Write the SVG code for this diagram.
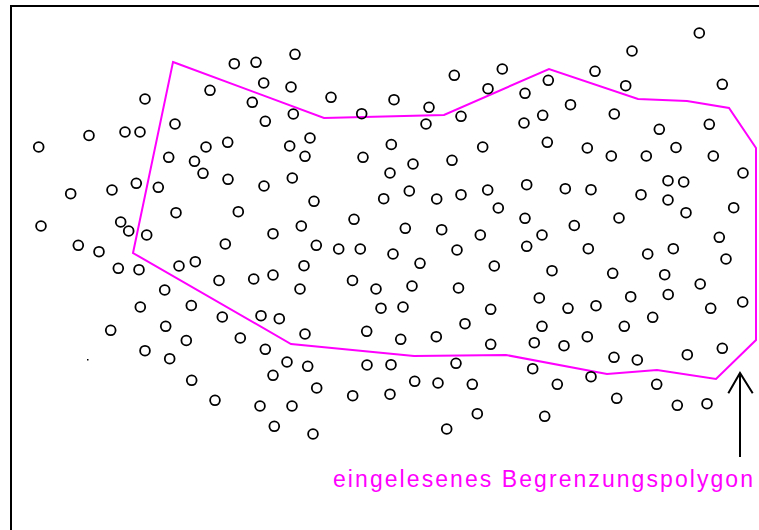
<svg xmlns="http://www.w3.org/2000/svg" width="759" height="530" viewBox="0 0 759 530">
<style>
.p{fill:none;stroke:#000;stroke-width:1.8}
.poly{fill:none;stroke:#ff00ff;stroke-width:2;stroke-linejoin:miter}
.frame{fill:none;stroke:#000;stroke-width:2}
.lbl{font-family:"Liberation Sans",Arial,sans-serif;font-size:23px;fill:#ff00ff}
.arr{fill:none;stroke:#000;stroke-width:2}
</style>
<defs><circle id="c" r="4.9" class="p"/></defs>
<rect width="759" height="530" fill="#fff"/>
<g id="frame">
<polyline class="frame" points="11,531 11,6 760,6"/>
</g>
<g id="boundary">
<polygon class="poly" points="173,62 324,118 444,115 549,69 638,99 687,101 729,108 756,148 756,340 716,379 657,370 607,374 506,355 414,356 291,344 133,253"/>
</g>
<g id="points">
<use href="#c" x="145" y="99"/>
<use href="#c" x="175" y="124"/>
<use href="#c" x="89" y="135.5"/>
<use href="#c" x="125" y="132"/>
<use href="#c" x="140" y="132"/>
<use href="#c" x="38.7" y="147"/>
<use href="#c" x="295" y="54.3"/>
<use href="#c" x="234.3" y="63.7"/>
<use href="#c" x="256" y="62.3"/>
<use href="#c" x="263.7" y="83"/>
<use href="#c" x="291" y="87"/>
<use href="#c" x="210" y="90.3"/>
<use href="#c" x="252.3" y="102.3"/>
<use href="#c" x="331" y="97.3"/>
<use href="#c" x="293.3" y="114"/>
<use href="#c" x="265.3" y="121.3"/>
<use href="#c" x="361.7" y="113.7"/>
<use href="#c" x="394" y="99.7"/>
<use href="#c" x="227.7" y="142.3"/>
<use href="#c" x="206" y="147"/>
<use href="#c" x="289.7" y="146"/>
<use href="#c" x="310" y="138"/>
<use href="#c" x="391.3" y="144.5"/>
<use href="#c" x="502.3" y="69"/>
<use href="#c" x="454.3" y="75.3"/>
<use href="#c" x="488" y="88.7"/>
<use href="#c" x="548.3" y="80.3"/>
<use href="#c" x="525" y="93.3"/>
<use href="#c" x="429" y="107.3"/>
<use href="#c" x="461" y="116.3"/>
<use href="#c" x="426" y="124"/>
<use href="#c" x="542.7" y="115.3"/>
<use href="#c" x="570.5" y="104.7"/>
<use href="#c" x="524" y="123"/>
<use href="#c" x="482.7" y="147"/>
<use href="#c" x="547.3" y="142.3"/>
<use href="#c" x="699.3" y="33"/>
<use href="#c" x="632" y="51"/>
<use href="#c" x="595" y="71.3"/>
<use href="#c" x="625.7" y="85.7"/>
<use href="#c" x="722.3" y="84.3"/>
<use href="#c" x="614.3" y="114"/>
<use href="#c" x="659.3" y="129.3"/>
<use href="#c" x="709.3" y="124.3"/>
<use href="#c" x="587.3" y="148"/>
<use href="#c" x="676" y="147.5"/>
<use href="#c" x="168.7" y="157.3"/>
<use href="#c" x="194.5" y="161.3"/>
<use href="#c" x="203" y="173.3"/>
<use href="#c" x="70.7" y="193.7"/>
<use href="#c" x="112" y="190"/>
<use href="#c" x="136.3" y="183.3"/>
<use href="#c" x="158.3" y="187.3"/>
<use href="#c" x="176" y="212.7"/>
<use href="#c" x="41" y="226"/>
<use href="#c" x="120.7" y="222"/>
<use href="#c" x="128.7" y="231"/>
<use href="#c" x="146.7" y="235"/>
<use href="#c" x="78.3" y="245.3"/>
<use href="#c" x="99" y="251.7"/>
<use href="#c" x="118.3" y="268.3"/>
<use href="#c" x="139" y="269.7"/>
<use href="#c" x="179" y="266"/>
<use href="#c" x="195.3" y="261.7"/>
<use href="#c" x="164.7" y="290"/>
<use href="#c" x="305" y="156.3"/>
<use href="#c" x="363" y="157.3"/>
<use href="#c" x="228" y="179.3"/>
<use href="#c" x="264" y="186"/>
<use href="#c" x="292.3" y="178"/>
<use href="#c" x="314" y="201.3"/>
<use href="#c" x="383.7" y="198.7"/>
<use href="#c" x="238.3" y="211.7"/>
<use href="#c" x="354" y="219.3"/>
<use href="#c" x="301.3" y="226"/>
<use href="#c" x="273" y="233.7"/>
<use href="#c" x="225.3" y="244"/>
<use href="#c" x="316.3" y="245.3"/>
<use href="#c" x="338.7" y="249"/>
<use href="#c" x="360.3" y="249"/>
<use href="#c" x="304" y="265.7"/>
<use href="#c" x="219" y="280.5"/>
<use href="#c" x="253.7" y="279"/>
<use href="#c" x="273" y="275"/>
<use href="#c" x="352.5" y="280.5"/>
<use href="#c" x="376" y="289"/>
<use href="#c" x="300" y="289"/>
<use href="#c" x="413" y="164"/>
<use href="#c" x="452" y="160.3"/>
<use href="#c" x="390" y="173"/>
<use href="#c" x="409.3" y="191"/>
<use href="#c" x="436.7" y="199"/>
<use href="#c" x="461" y="194.7"/>
<use href="#c" x="487.7" y="190"/>
<use href="#c" x="526.7" y="184.7"/>
<use href="#c" x="565.3" y="188.7"/>
<use href="#c" x="498.3" y="208"/>
<use href="#c" x="525" y="218.3"/>
<use href="#c" x="574.3" y="225.5"/>
<use href="#c" x="405.3" y="228.3"/>
<use href="#c" x="441.7" y="229.7"/>
<use href="#c" x="480.3" y="235"/>
<use href="#c" x="542" y="235"/>
<use href="#c" x="393" y="254"/>
<use href="#c" x="457" y="250"/>
<use href="#c" x="526.7" y="246.3"/>
<use href="#c" x="420" y="263.3"/>
<use href="#c" x="494.3" y="266"/>
<use href="#c" x="552" y="270.7"/>
<use href="#c" x="412" y="286"/>
<use href="#c" x="458.5" y="288"/>
<use href="#c" x="611.3" y="156"/>
<use href="#c" x="646.3" y="156"/>
<use href="#c" x="713.3" y="156"/>
<use href="#c" x="743" y="173"/>
<use href="#c" x="591" y="189.7"/>
<use href="#c" x="668" y="180.7"/>
<use href="#c" x="683.7" y="182"/>
<use href="#c" x="641" y="194.7"/>
<use href="#c" x="668" y="200"/>
<use href="#c" x="686" y="212.7"/>
<use href="#c" x="733.7" y="207.7"/>
<use href="#c" x="619" y="218"/>
<use href="#c" x="719.3" y="237.3"/>
<use href="#c" x="588.3" y="248.7"/>
<use href="#c" x="647.7" y="254"/>
<use href="#c" x="673.3" y="248.7"/>
<use href="#c" x="726" y="259"/>
<use href="#c" x="612.7" y="273.3"/>
<use href="#c" x="664.7" y="274.7"/>
<use href="#c" x="700.2" y="284"/>
<use href="#c" x="668.2" y="294.5"/>
<use href="#c" x="140.3" y="307"/>
<use href="#c" x="191.3" y="305.5"/>
<use href="#c" x="110.7" y="330.3"/>
<use href="#c" x="165.7" y="326.3"/>
<use href="#c" x="186.3" y="340.5"/>
<use href="#c" x="145" y="350.7"/>
<use href="#c" x="169.7" y="358.7"/>
<use href="#c" x="191.7" y="380.3"/>
<use href="#c" x="222.3" y="317"/>
<use href="#c" x="261" y="315.7"/>
<use href="#c" x="279.3" y="318.7"/>
<use href="#c" x="381" y="308.2"/>
<use href="#c" x="305" y="334"/>
<use href="#c" x="240.3" y="338"/>
<use href="#c" x="366.7" y="331.3"/>
<use href="#c" x="265.3" y="349.3"/>
<use href="#c" x="287" y="362"/>
<use href="#c" x="307.7" y="366.3"/>
<use href="#c" x="367" y="365"/>
<use href="#c" x="391" y="364.7"/>
<use href="#c" x="273" y="375.3"/>
<use href="#c" x="316.7" y="388"/>
<use href="#c" x="215" y="400.3"/>
<use href="#c" x="260" y="406"/>
<use href="#c" x="292" y="406"/>
<use href="#c" x="352.7" y="395.7"/>
<use href="#c" x="390" y="394.2"/>
<use href="#c" x="274.3" y="426.3"/>
<use href="#c" x="313" y="434"/>
<use href="#c" x="539.3" y="298"/>
<use href="#c" x="568" y="308.3"/>
<use href="#c" x="403" y="307"/>
<use href="#c" x="490.7" y="309.3"/>
<use href="#c" x="465" y="323.7"/>
<use href="#c" x="542" y="326.3"/>
<use href="#c" x="400.7" y="339.3"/>
<use href="#c" x="436.3" y="336.7"/>
<use href="#c" x="490.7" y="344.3"/>
<use href="#c" x="534.3" y="342.7"/>
<use href="#c" x="564" y="345.7"/>
<use href="#c" x="456" y="363.3"/>
<use href="#c" x="532.7" y="368.7"/>
<use href="#c" x="414.7" y="381.3"/>
<use href="#c" x="438" y="383"/>
<use href="#c" x="472.3" y="384.3"/>
<use href="#c" x="557.3" y="384.3"/>
<use href="#c" x="477.3" y="413.7"/>
<use href="#c" x="544.7" y="416.3"/>
<use href="#c" x="446.7" y="429"/>
<use href="#c" x="630.7" y="296.7"/>
<use href="#c" x="596" y="305.7"/>
<use href="#c" x="710.7" y="308.3"/>
<use href="#c" x="742.7" y="302"/>
<use href="#c" x="652.7" y="317.3"/>
<use href="#c" x="624.3" y="326.3"/>
<use href="#c" x="587.3" y="336.7"/>
<use href="#c" x="614" y="357.3"/>
<use href="#c" x="637.3" y="360"/>
<use href="#c" x="687.3" y="354.7"/>
<use href="#c" x="722.3" y="348.3"/>
<use href="#c" x="591" y="376.7"/>
<use href="#c" x="656.7" y="384.3"/>
<use href="#c" x="616.7" y="398.3"/>
<use href="#c" x="677.3" y="405.3"/>
<use href="#c" x="707" y="403.7"/>
<rect x="87" y="359" width="1.5" height="1.5" fill="#000"/>
</g>
<g id="connectors">
<line class="arr" x1="740" y1="373" x2="740" y2="457"/>
<polyline class="arr" points="728.3,393.3 740,373 752.7,393.3"/>
</g>
<g id="label">
<text class="lbl" x="333" y="487" textLength="420" lengthAdjust="spacing">eingelesenes Begrenzungspolygon</text>
</g>
</svg>
